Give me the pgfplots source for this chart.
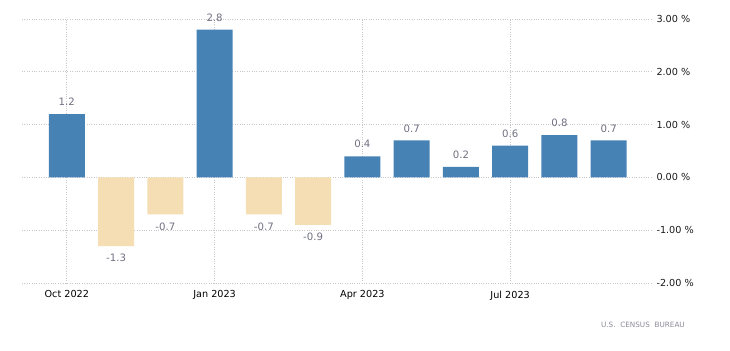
\documentclass[border=0pt]{standalone}
\usepackage{pgfplots}
\pgfplotsset{compat=1.18}
\usepackage{fontspec}
\setmainfont{DejaVu Sans}
\definecolor{barblue}{HTML}{4682B4}
\definecolor{barneg}{HTML}{F5DEB3}
\definecolor{lblgray}{HTML}{707082}
\definecolor{gridgray}{HTML}{C8C8C8}
\definecolor{srcgray}{HTML}{8A8A9A}
\begin{document}
\begin{tikzpicture}
\path[use as bounding box] (-22bp,-68bp) rectangle (708bp,283bp);
\begin{axis}[
  at={(0,0)}, anchor=south west,
  scale only axis, width=631bp, height=264bp,
  xmin=-0.91, xmax=11.9, ymin=-2, ymax=3,
  axis line style={draw=none},
  ybar, bar width=36bp,
  xtick={0,3,6,9},
  xticklabels={Oct 2022, Jan 2023, Apr 2023, Jul 2023},
  ytick={-2,-1,0,1,2,3},
  yticklabel pos=right,
  yticklabel={\pgfmathprintnumber[assume math mode=true,fixed,fixed zerofill,precision=2]{\tick}~\%},
  y tick label style={anchor=west, font=\fontsize{9.7}{11}\selectfont, text=black!90},
  x tick label style={font=\fontsize{9.7}{11}\selectfont, text=black},
  tick style={draw=none},
  grid=major,
  major grid style={gridgray, dotted, line width=0.8pt},
  nodes near coords={\pgfmathprintnumber[assume math mode=true,fixed,precision=1]{\pgfplotspointmeta}},
  nodes near coords align={vertical},
  every node near coord/.append style={text=lblgray, font=\fontsize{10.2}{12}\selectfont, inner ysep=8bp},
]
\addplot[fill=barblue, draw=none, bar shift=0pt] coordinates {
  (0,1.2) (3,2.8) (6,0.4) (7,0.7) (8,0.2) (9,0.6) (10,0.8) (11,0.7)
};
\addplot[fill=barneg, draw=none, bar shift=0pt] coordinates {
  (1,-1.3) (2,-0.7) (4,-0.7) (5,-0.9)
};
\end{axis}
\node[anchor=east, font=\fontsize{7.3}{8}\selectfont, text=srcgray, inner sep=0pt] at (663bp,-42bp) {U.S.\ \ CENSUS\ \ BUREAU};
\end{tikzpicture}
\end{document}
